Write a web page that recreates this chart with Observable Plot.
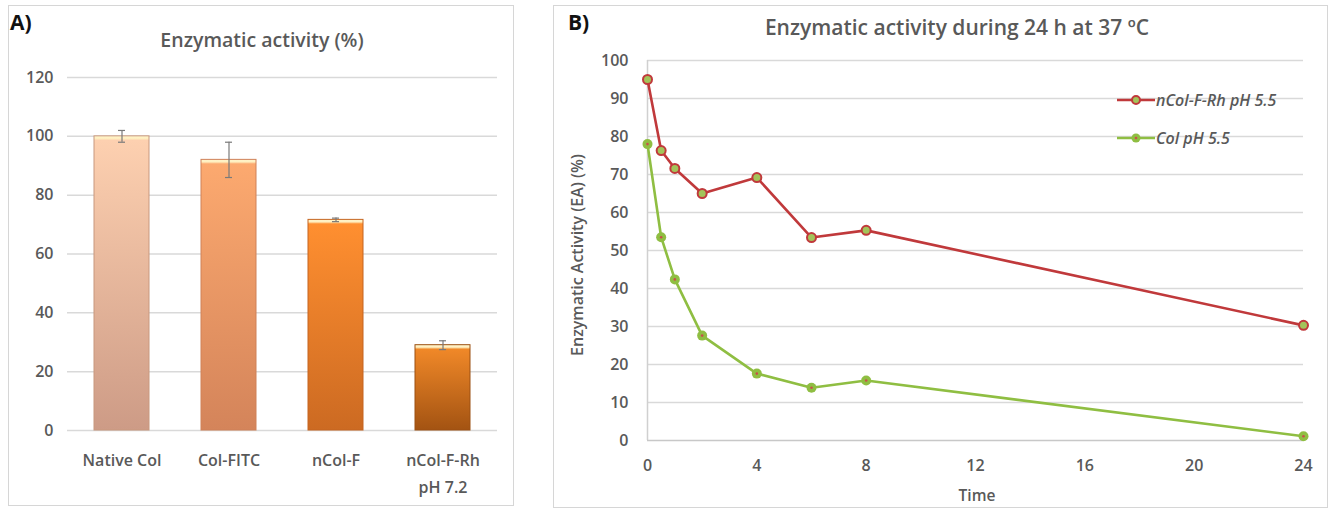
<!DOCTYPE html>
<html>
<head>
<meta charset="utf-8">
<script src="https://cdn.jsdelivr.net/npm/d3@7"></script>
<script src="https://cdn.jsdelivr.net/npm/@observablehq/plot@0.6"></script>
<style>
  html, body { margin: 0; padding: 0; background: #fff; }
  body { width: 1336px; height: 508px; position: relative; overflow: hidden; font-family: "Open Sans", sans-serif; }
  .abs { position: absolute; }
  .frame { position: absolute; border: 1px solid #d6d6d6; box-sizing: border-box; }
  .panel-letter { font-weight: 700; font-size: 21px; color: #111; }
  .title { font-weight: 600; color: #595959; white-space: nowrap; transform: translateX(-50%); line-height: 1.3; }
  .leg { font-style: italic; font-weight: 600; font-size: 16px; color: #595959; white-space: nowrap; line-height: 20px; }
</style>
</head>
<body>
<svg width="0" height="0" style="position:absolute">
  <defs id="defs"></defs>
</svg>
<div class="frame" style="left:8px;top:5px;width:506px;height:501px"></div>
<div class="frame" style="left:553px;top:5px;width:775px;height:503px"></div>
<div id="chartA" class="abs" style="left:0;top:0"></div>
<div id="chartB" class="abs" style="left:540px;top:0"></div>
<div class="abs panel-letter" style="left:10px;top:8px">A)</div>
<div class="abs panel-letter" style="left:568px;top:8px">B)</div>
<div class="abs title" style="left:262px;top:27px;font-size:19.5px">Enzymatic activity (%)</div>
<div class="abs title" style="left:957px;top:14px;font-size:21px">Enzymatic activity during 24 h at 37 ºC</div>
<div id="legend" class="abs" style="left:1110px;top:88px;width:226px;height:70px"></div>
<script>
// ---------- Panel A data ----------
const categories = ["Native Col", "Col-FITC", "nCol-F", "nCol-F-Rh"];
const tickLabelsA = ["Native Col", "Col-FITC", "nCol-F", "nCol-F-Rh\npH 7.2"];
const activity = [100, 92, 71.6, 29];
const activityErr = [2, 6, 0.6, 1.5];
const yTicksA = [0, 20, 40, 60, 80, 100, 120];
const barTop = ["#fdd0b0", "#fca96f", "#ff8f30", "#f08828"];
const barBottom = ["#cd9b86", "#d4845a", "#cc6a22", "#a35312"];
const barEdge = ["#c8987f", "#cf8158", "#c56520", "#9c5012"];

// ---------- Panel B data ----------
const times = [0, 0.5, 1, 2, 4, 6, 8, 24];
const rhPH55 = [95, 76.3, 71.6, 65, 69.2, 53.4, 55.3, 30.3];
const colPH55 = [78, 53.5, 42.4, 27.6, 17.6, 13.9, 15.8, 1.1];
const seriesNames = ["nCol-F-Rh pH 5.5", "Col pH 5.5"];
const seriesColors = ["#c0393b", "#8fbe42"];
const xTicksB = [0, 4, 8, 12, 16, 20, 24];
const yTicksB = [0, 10, 20, 30, 40, 50, 60, 70, 80, 90, 100];

const NS = "http://www.w3.org/2000/svg";
const plotHeightA = 508 - 77 - 78;

// gradients (thin light highlight on top of each bar)
const defs = document.getElementById("defs");
categories.forEach((c, i) => {
  const g = document.createElementNS(NS, "linearGradient");
  g.setAttribute("id", "gA" + i);
  g.setAttribute("x1", "0"); g.setAttribute("y1", "0");
  g.setAttribute("x2", "0"); g.setAttribute("y2", "1");
  const h = activity[i] / 120 * plotHeightA;
  const stops = [[0, "#fff4cc"], [2.5 / h, "#fff0c0"], [4.5 / h, barTop[i]], [1, barBottom[i]]];
  stops.forEach(([o, col]) => {
    const s = document.createElementNS(NS, "stop");
    s.setAttribute("offset", o);
    s.setAttribute("stop-color", col);
    g.appendChild(s);
  });
  defs.appendChild(g);
});

const rowsA = categories.map((c, i) => ({cat: c, mean: activity[i], err: activityErr[i], i}));

const chartA = Plot.plot({
  width: 520, height: 508,
  marginLeft: 67, marginRight: 23, marginTop: 77, marginBottom: 78,
  style: {fontFamily: "Open Sans", fontWeight: 600, fontSize: "16px", color: "#595959", background: "transparent"},
  x: {domain: categories, paddingInner: 0.49, paddingOuter: 0.245, label: null},
  y: {domain: [0, 120], label: null},
  color: {type: "identity"},
  marks: [
    Plot.gridY(yTicksA, {stroke: "#d9d9d9", strokeOpacity: 1, strokeWidth: 1.5}),
    Plot.barY(rowsA, {x: "cat", y: "mean", fill: d => `url(#gA${d.i})`, stroke: d => barEdge[d.i], strokeWidth: 1}),
    Plot.ruleX(rowsA, {x: "cat", y1: d => d.mean - d.err, y2: d => d.mean + d.err, stroke: "#7a7a7a", strokeWidth: 1.2}),
    Plot.tickY(rowsA, {x: "cat", y: d => d.mean - d.err, stroke: "#7a7a7a", strokeWidth: 1.2, inset: 24}),
    Plot.tickY(rowsA, {x: "cat", y: d => d.mean + d.err, stroke: "#7a7a7a", strokeWidth: 1.2, inset: 24}),
    Plot.axisY({ticks: yTicksA, tickSize: 0, tickPadding: 14, label: null, fill: "#595959"}),
    Plot.axisX({tickSize: 0, tickPadding: 17, label: null, fill: "#595959",
      tickFormat: d => tickLabelsA[categories.indexOf(d)], lineHeight: 1.65})
  ]
});
document.getElementById("chartA").appendChild(chartA);

const ptsB = [];
times.forEach((t, i) => {
  ptsB.push({t, v: rhPH55[i], s: 0});
  ptsB.push({t, v: colPH55[i], s: 1});
});

const chartB = Plot.plot({
  width: 796, height: 508,
  marginLeft: 107, marginRight: 33, marginTop: 60, marginBottom: 68,
  style: {fontFamily: "Open Sans", fontWeight: 600, fontSize: "16px", color: "#595959", background: "transparent"},
  x: {domain: [0, 24], label: null},
  y: {domain: [0, 100], label: null},
  color: {type: "identity"},
  marks: [
    Plot.gridY(yTicksB.filter(d => d > 0), {stroke: "#d9d9d9", strokeOpacity: 1, strokeWidth: 1.5}),
    Plot.ruleX([0], {stroke: "#d0d0d0", strokeWidth: 1.5}),
    Plot.ruleY([0], {stroke: "#c8c8c8", strokeWidth: 1.5}),
    Plot.line(ptsB, {x: "t", y: "v", z: "s", stroke: d => seriesColors[d.s], strokeWidth: 2.6}),
    Plot.dot(ptsB.filter(d => d.s === 0), {x: "t", y: "v", r: 4.5, stroke: seriesColors[0], strokeWidth: 2, fill: "#a3c45a"}),
    Plot.dot(ptsB.filter(d => d.s === 1), {x: "t", y: "v", r: 5, fill: seriesColors[1], stroke: "none"}),
    Plot.dot(ptsB.filter(d => d.s === 1), {x: "t", y: "v", r: 1.3, fill: "#c8504a", stroke: "none"}),
    Plot.axisY({ticks: yTicksB, tickSize: 0, tickPadding: 19, label: null, fill: "#595959"}),
    Plot.axisX({ticks: xTicksB, tickSize: 0, tickPadding: 19, label: null, fill: "#595959"})
  ]
});
document.getElementById("chartB").appendChild(chartB);

// axis titles for B
const ylab = document.createElement("div");
ylab.className = "abs";
ylab.textContent = "Enzymatic Activity (EA) (%)";
Object.assign(ylab.style, {left: "577px", top: "255px", transform: "translate(-50%,-50%) rotate(-90deg)",
  fontSize: "16px", fontWeight: 600, color: "#595959", whiteSpace: "nowrap"});
document.body.appendChild(ylab);
const xlab = document.createElement("div");
xlab.className = "abs";
xlab.textContent = "Time";
Object.assign(xlab.style, {left: "977px", top: "495px", transform: "translate(-50%,-50%)",
  fontSize: "15.5px", fontWeight: 600, color: "#595959"});
document.body.appendChild(xlab);

// legend
const leg = document.getElementById("legend");
seriesNames.forEach((name, i) => {
  const y = 12 + i * 38;
  const sw = document.createElementNS(NS, "svg");
  sw.setAttribute("width", 40); sw.setAttribute("height", 14);
  Object.assign(sw.style, {position: "absolute", left: "5px", top: (y - 7) + "px"});
  const ln = document.createElementNS(NS, "line");
  ln.setAttribute("x1", 2); ln.setAttribute("x2", 40); ln.setAttribute("y1", 7); ln.setAttribute("y2", 7);
  ln.setAttribute("stroke", seriesColors[i]); ln.setAttribute("stroke-width", 2.6);
  sw.appendChild(ln);
  const c = document.createElementNS(NS, "circle");
  c.setAttribute("cx", 21); c.setAttribute("cy", 7);
  if (i === 0) { c.setAttribute("r", 4); c.setAttribute("fill", "#a3c45a"); c.setAttribute("stroke", seriesColors[0]); c.setAttribute("stroke-width", 2); }
  else { c.setAttribute("r", 4.5); c.setAttribute("fill", seriesColors[1]); }
  sw.appendChild(c);
  if (i === 1) {
    const c2 = document.createElementNS(NS, "circle");
    c2.setAttribute("cx", 21); c2.setAttribute("cy", 7); c2.setAttribute("r", 1.3); c2.setAttribute("fill", "#c8504a");
    sw.appendChild(c2);
  }
  leg.appendChild(sw);
  const t = document.createElement("div");
  t.className = "leg";
  t.textContent = name;
  Object.assign(t.style, {position: "absolute", left: "46px", top: (y - 10) + "px"});
  leg.appendChild(t);
});
</script>
</body>
</html>
